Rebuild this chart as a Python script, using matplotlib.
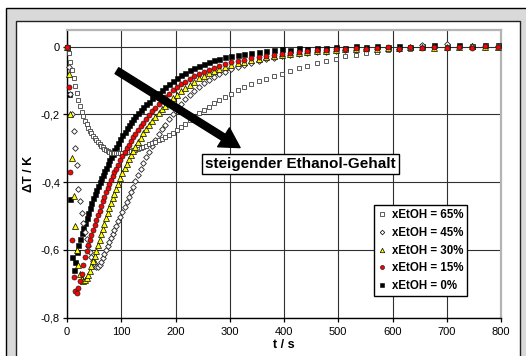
import matplotlib
matplotlib.use("Agg")
import matplotlib.pyplot as plt
from matplotlib.patches import Rectangle

plt.rcParams['font.family'] = ['Liberation Sans', 'DejaVu Sans']

# ---------------- data ----------------
t_s = [0, 3, 6, 9, 12, 15, 18, 21, 24, 27, 30, 33, 36, 39, 42, 45, 48, 51, 54, 57,
       60, 63, 66, 69, 72, 75, 78, 81, 84, 87, 90, 94, 98, 102, 106, 110, 114, 118,
       122, 126, 131, 136, 141, 146, 151, 157, 163, 169, 175, 181, 188, 195, 202,
       210, 218, 226, 234, 243, 252, 261, 271, 281, 292, 303, 315, 327, 340, 353,
       367, 381, 396, 411, 427, 443, 460, 477, 495, 513, 532, 551, 571, 591, 612,
       633, 655, 677, 700, 723, 747, 771, 795]

dT_65 = [0.000, -0.020, -0.045, -0.068, -0.092, -0.115, -0.138, -0.158, -0.176, -0.192,
         -0.206, -0.218, -0.229, -0.239, -0.248, -0.256, -0.263, -0.270, -0.276, -0.282,
         -0.288, -0.293, -0.297, -0.301, -0.305, -0.308, -0.311, -0.313, -0.314, -0.315,
         -0.315, -0.315, -0.315, -0.314, -0.313, -0.312, -0.310, -0.308, -0.306, -0.304,
         -0.301, -0.298, -0.295, -0.292, -0.288, -0.284, -0.280, -0.276, -0.272, -0.267,
         -0.261, -0.254, -0.246, -0.237, -0.227, -0.217, -0.207, -0.197, -0.187, -0.177,
         -0.167, -0.158, -0.149, -0.139, -0.129, -0.119, -0.109, -0.101, -0.095, -0.088,
         -0.080, -0.072, -0.064, -0.056, -0.049, -0.042, -0.035, -0.029, -0.024, -0.019,
         -0.015, -0.011, -0.008, -0.006, -0.004, -0.003, -0.001, 0.000, 0.001, 0.002, 0.003]

dT_45 = [0.000, -0.060, -0.140, -0.200, -0.250, -0.300, -0.350, -0.420, -0.455, -0.490,
         -0.520, -0.546, -0.569, -0.589, -0.606, -0.620, -0.632, -0.642, -0.649, -0.650,
         -0.645, -0.636, -0.625, -0.613, -0.601, -0.589, -0.577, -0.565, -0.553, -0.541,
         -0.530, -0.516, -0.502, -0.488, -0.473, -0.458, -0.443, -0.428, -0.413, -0.398,
         -0.380, -0.362, -0.344, -0.327, -0.310, -0.292, -0.275, -0.259, -0.244, -0.230,
         -0.214, -0.199, -0.185, -0.170, -0.156, -0.143, -0.130, -0.118, -0.107, -0.098,
         -0.090, -0.082, -0.074, -0.066, -0.059, -0.053, -0.047, -0.042, -0.037, -0.033,
         -0.029, -0.026, -0.023, -0.020, -0.017, -0.015, -0.013, -0.011, -0.009, -0.007,
         -0.006, -0.004, -0.006, -0.003, 0.004, -0.002, 0.008, -0.001, 0.002, 0.000, 0.003]

dT_30 = [0.000, -0.080, -0.200, -0.330, -0.440, -0.530, -0.600, -0.645, -0.672, -0.686,
         -0.692, -0.690, -0.683, -0.673, -0.661, -0.648, -0.633, -0.618, -0.602, -0.586,
         -0.570, -0.554, -0.538, -0.522, -0.507, -0.492, -0.477, -0.462, -0.448, -0.434,
         -0.421, -0.404, -0.388, -0.373, -0.359, -0.345, -0.332, -0.320, -0.308, -0.296,
         -0.282, -0.269, -0.256, -0.244, -0.232, -0.219, -0.207, -0.196, -0.185, -0.175,
         -0.164, -0.153, -0.143, -0.132, -0.122, -0.112, -0.103, -0.094, -0.086, -0.079,
         -0.072, -0.066, -0.060, -0.054, -0.049, -0.044, -0.040, -0.036, -0.032, -0.028,
         -0.025, -0.022, -0.019, -0.016, -0.014, -0.012, -0.010, -0.008, -0.007, -0.005,
         -0.006, -0.003, -0.004, -0.002, -0.001, -0.003, 0.000, -0.002, 0.001, -0.001, 0.000]

dT_15 = [0.000, -0.120, -0.370, -0.570, -0.680, -0.722, -0.727, -0.712, -0.692, -0.670,
         -0.645, -0.622, -0.603, -0.586, -0.570, -0.555, -0.540, -0.526, -0.512, -0.498,
         -0.484, -0.470, -0.456, -0.443, -0.430, -0.417, -0.405, -0.393, -0.382, -0.371,
         -0.361, -0.348, -0.335, -0.323, -0.311, -0.300, -0.289, -0.278, -0.268, -0.258,
         -0.246, -0.235, -0.224, -0.213, -0.203, -0.191, -0.180, -0.169, -0.159, -0.149,
         -0.139, -0.129, -0.120, -0.111, -0.103, -0.095, -0.088, -0.081, -0.074, -0.068,
         -0.062, -0.056, -0.051, -0.046, -0.042, -0.038, -0.034, -0.030, -0.027, -0.024,
         -0.021, -0.018, -0.015, -0.013, -0.011, -0.009, -0.008, -0.006, -0.004, -0.008,
         -0.003, -0.001, -0.006, -0.002, -0.003, 0.000, -0.005, -0.001, -0.003, 0.001, -0.002]

dT_0 = [0.000, -0.140, -0.450, -0.620, -0.660, -0.635, -0.605, -0.585, -0.567, -0.550,
        -0.535, -0.520, -0.505, -0.490, -0.476, -0.462, -0.448, -0.436, -0.424, -0.412,
        -0.400, -0.389, -0.378, -0.367, -0.357, -0.346, -0.336, -0.326, -0.316, -0.306,
        -0.297, -0.285, -0.273, -0.262, -0.251, -0.241, -0.232, -0.223, -0.214, -0.206,
        -0.196, -0.187, -0.178, -0.170, -0.162, -0.153, -0.144, -0.136, -0.128, -0.120,
        -0.111, -0.102, -0.094, -0.085, -0.077, -0.070, -0.063, -0.056, -0.050, -0.045,
        -0.040, -0.036, -0.032, -0.028, -0.024, -0.021, -0.018, -0.015, -0.012, -0.010,
        -0.007, -0.009, -0.005, -0.007, -0.003, -0.005, -0.001, -0.004, 0.002, -0.002,
        0.001, -0.001, 0.003, 0.000, 0.002, 0.004, 0.001, 0.005, 0.003, 0.004, 0.005]

labels = ['xEtOH = 65%', 'xEtOH = 45%', 'xEtOH = 30%', 'xEtOH = 15%', 'xEtOH = 0%']
x_ticks = [0, 100, 200, 300, 400, 500, 600, 700, 800]
y_ticks = [0, -0.2, -0.4, -0.6, -0.8]
y_ticklabels = ['0', '-0,2', '-0,4', '-0,6', '-0,8']
x_label = 't / s'
y_label = '\u0394T / K'
arrow_text = 'steigender Ethanol-Gehalt'

# ---------------- figure ----------------
W, H = 526, 356
fig = plt.figure(figsize=(W / 100, H / 100), dpi=100)
fig.patch.set_facecolor('white')

def px_rect(x0, y0, x1, y1, **kw):
    return Rectangle((x0 / W, 1 - y1 / H), (x1 - x0) / W, (y1 - y0) / H,
                     transform=fig.transFigure, **kw)

fig.patches.append(px_rect(5.5, 7.5, 540, 370, facecolor='#d9d9d9',
                           edgecolor='black', linewidth=1.0, zorder=-20))
fig.patches.append(px_rect(15.5, 20.5, 519.5, 370, facecolor='white',
                           edgecolor='#222222', linewidth=1.0, zorder=-10))

ax = fig.add_axes([67 / W, 38.3 / H, (501 - 67) / W, (326.3 - 38.3) / H])
ax.set_zorder(1)
ax.set_facecolor('white')
ax.set_xlim(0, 800)
ax.set_ylim(-0.8, 0.05)

for s in ['left', 'bottom']:
    ax.spines[s].set_color('black')
    ax.spines[s].set_linewidth(1.0)
for s in ['top', 'right']:
    ax.spines[s].set_color('#b4b4b4')
    ax.spines[s].set_linewidth(1.6)

ax.set_xticks(x_ticks)
ax.set_xticklabels([str(v) for v in x_ticks])
ax.set_yticks(y_ticks)
ax.set_yticklabels(y_ticklabels)
ax.tick_params(axis='both', direction='out', length=3, width=0.9, labelsize=8,
               color='black', labelcolor='black')
ax.tick_params(axis='x', pad=3.5)
ax.tick_params(axis='y', pad=2)
ax.grid(True, color='#303030', linewidth=0.8)
ax.set_axisbelow(True)

ms_common = dict(linestyle='none', clip_on=False)
ax.plot(t_s, dT_0, marker='s', ms=3.6, mfc='black', mec='black', mew=0.4,
        label=labels[4], zorder=3, **ms_common)
ax.plot(t_s, dT_45, marker='D', ms=2.9, mfc='white', mec='#202020', mew=0.6,
        label=labels[1], zorder=4, **ms_common)
ax.plot(t_s, dT_65, marker='s', ms=3.5, mfc='white', mec='#404040', mew=0.6,
        label=labels[0], zorder=5, **ms_common)
ax.plot(t_s, dT_30, marker='^', ms=4.0, mfc='#ffff00', mec='black', mew=0.5,
        label=labels[2], zorder=6, **ms_common)
ax.plot(t_s, dT_15, marker='o', ms=3.6, mfc='#ff0000', mec='#202020', mew=0.5,
        label=labels[3], zorder=7, **ms_common)

ax.set_xlabel(x_label, fontsize=9, fontweight='bold')
ax.set_ylabel(y_label, fontsize=9, fontweight='bold')
ax.xaxis.set_label_coords(0.5, -0.074)
ax.yaxis.set_label_coords(-0.074, 0.5)

# arrow
ax.annotate('', xy=(319, -0.298), xytext=(92, -0.071),
            arrowprops=dict(width=5, headwidth=16, headlength=14,
                            facecolor='black', edgecolor='black', shrink=0),
            zorder=10)
ax.text(430, -0.347, arrow_text, fontsize=11, fontweight='bold',
        ha='center', va='center', zorder=11,
        bbox=dict(boxstyle='square,pad=0.2', facecolor='white',
                  edgecolor='black', linewidth=1.0))

# legend
h = {l.get_label(): l for l in ax.get_lines()}
handles = [h[l] for l in labels]
leg = ax.legend(handles, labels, loc='upper left', bbox_to_anchor=(0.707, 0.391),
                prop={'size': 8.3, 'weight': 'bold'}, frameon=True, fancybox=False,
                edgecolor='black', framealpha=1, borderpad=0.35, labelspacing=0.5,
                handlelength=0.8, handletextpad=0.4, markerscale=0.8,
                borderaxespad=0)
leg.get_frame().set_linewidth(1.0)
leg.set_zorder(12)

fig.savefig('out.png', dpi=100)
